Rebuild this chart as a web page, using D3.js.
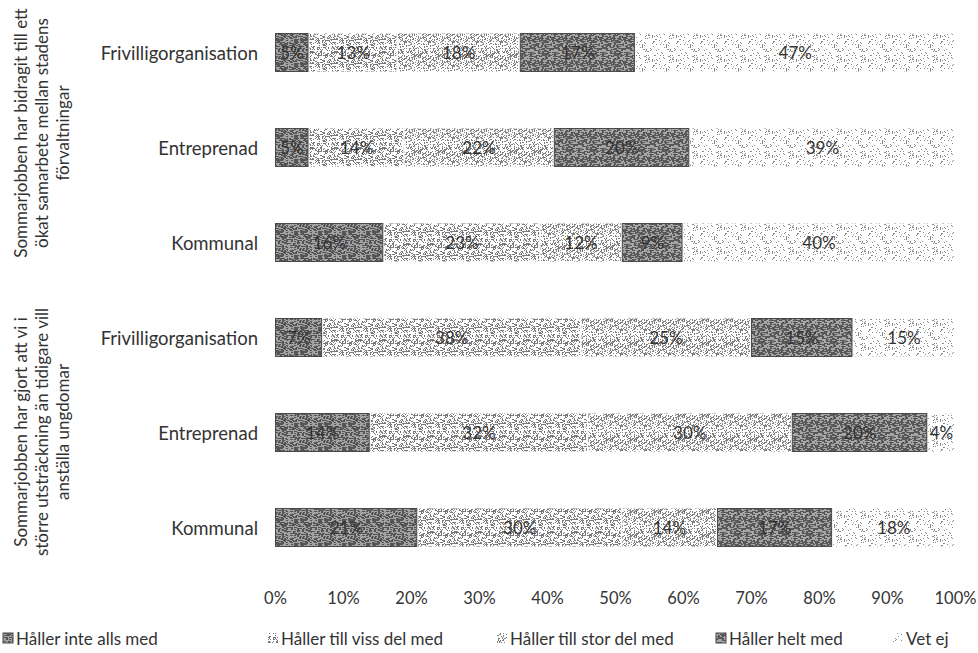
<!DOCTYPE html>
<html>
<head>
<meta charset="utf-8">
<script src="https://cdn.jsdelivr.net/npm/d3@7"></script>
<style>
  body { margin: 0; background: #fff; }
  text { font-family: Lato, "Open Sans", sans-serif; fill: #333; }
</style>
</head>
<body>
<script>
const svgWidth = 978,
    svgHeight = 653;

// rows, top to bottom (two question groups, three organisation types each)
const rowIds = ["g1-friv", "g1-entr", "g1-komm", "g2-friv", "g2-entr", "g2-komm"];
const rowLabels = ["Frivilligorganisation", "Entreprenad", "Kommunal", "Frivilligorganisation", "Entreprenad", "Kommunal"];
const groupLabels = [
    ["Sommarjobben har bidragit till ett", "ökat samarbete mellan stadens", "förvaltningar"],
    ["Sommarjobben har gjort att vi i", "större utsträckning än tidigare vill", "anställa ungdomar"]
];
const seriesNames = ["Håller inte alls med", "Håller till viss del med", "Håller till stor del med", "Håller helt med", "Vet ej"];

// percent per row
const inteAlls = [5, 5, 16, 7, 14, 21];
const vissDel = [13, 14, 23, 38, 32, 30];
const storDel = [18, 22, 12, 25, 30, 14];
const heltMed = [17, 20, 9, 15, 20, 17];
const vetEj = [47, 39, 40, 15, 4, 18];

const xTicks = [0, 10, 20, 30, 40, 50, 60, 70, 80, 90, 100];

const seriesValues = [inteAlls, vissDel, storDel, heltMed, vetEj];
const table = rowIds.map(function (id, i) {
    var row = { id: id };
    seriesNames.forEach(function (s, k) { row[s] = seriesValues[k][i]; });
    return row;
});

var svg = d3.select("body").append("svg")
    .attr("width", svgWidth)
    .attr("height", svgHeight);

// scanned-print look: pattern fills built from a fixed hash, not data
var defs = svg.append("defs");
function hash(n) {
    var s = Math.sin(n * 127.1 + 311.7) * 43758.5453;
    return s - Math.floor(s);
}
function makePattern(id, size, bg, dotColor, density, seed, dotW) {
    var p = defs.append("pattern")
        .attr("id", id)
        .attr("patternUnits", "userSpaceOnUse")
        .attr("width", size)
        .attr("height", size);
    p.append("rect").attr("width", size).attr("height", size).attr("fill", bg);
    for (var yy = 0; yy < size; yy++) {
        for (var xx = 0; xx < size; xx++) {
            if (hash(seed + xx * 31 + yy * 977) < density) {
                p.append("rect")
                    .attr("x", xx).attr("y", yy)
                    .attr("width", dotW).attr("height", 1)
                    .attr("fill", dotColor);
            }
        }
    }
}
makePattern("pat0", 24, "#a2a2a2", "#555", 0.34, 3, 2);
makePattern("pat1", 24, "#ffffff", "#7a7a7a", 0.34, 7, 1);
makePattern("pat2", 24, "#ffffff", "#808080", 0.30, 11, 1);
makePattern("pat3", 24, "#a6a6a6", "#585858", 0.33, 17, 2);
makePattern("pat4", 24, "#ffffff", "#8a8a8a", 0.13, 23, 1);

var fills = ["url(#pat0)", "url(#pat1)", "url(#pat2)", "url(#pat3)", "url(#pat4)"];
var strokes = ["#4a4a4a", "none", "none", "#4a4a4a", "none"];

var x = d3.scaleLinear().domain([0, 100]).range([275, 955]);
var y = d3.scaleBand().domain(rowIds).range([5, 575]).paddingInner(0.6).paddingOuter(0.3);

var stack = d3.stack().keys(seriesNames);
var stacked = stack(table);

var layers = svg.append("g").attr("class", "bars")
    .selectAll("g")
    .data(stacked).enter()
    .append("g")
    .attr("fill", function (d, k) { return fills[k]; })
    .attr("stroke", function (d, k) { return strokes[k]; });

layers.selectAll("rect")
    .data(function (d) { return d; }).enter()
    .append("rect")
    .attr("x", function (d) { return x(d[0]) + 0.5; })
    .attr("y", function (d) { return y(d.data.id); })
    .attr("width", function (d) { return Math.max(0, x(d[1]) - x(d[0]) - 1.5); })
    .attr("height", y.bandwidth());

layers.selectAll("text")
    .data(function (d) { return d; }).enter()
    .append("text")
    .attr("x", function (d) { return (x(d[0]) + x(d[1])) / 2; })
    .attr("y", function (d) { return y(d.data.id) + y.bandwidth() / 2; })
    .attr("text-anchor", "middle")
    .attr("dominant-baseline", "central")
    .attr("stroke", "none")
    .style("font-size", "17px")
    .text(function (d) { return (d[1] - d[0]) + "%"; });

// category labels
svg.append("g")
    .selectAll("text")
    .data(rowIds).enter()
    .append("text")
    .attr("x", 258)
    .attr("y", function (d) { return y(d) + y.bandwidth() / 2; })
    .attr("text-anchor", "end")
    .attr("dominant-baseline", "central")
    .style("font-size", "18.5px")
    .text(function (d, i) { return rowLabels[i]; });

// group labels, rotated
var groupCenters = [133, 432];
groupLabels.forEach(function (lines, g) {
    var gl = svg.append("g")
        .attr("transform", "translate(0," + groupCenters[g] + ") rotate(-90)");
    gl.selectAll("text")
        .data(lines).enter()
        .append("text")
        .attr("x", 0)
        .attr("y", function (d, i) { return 20 + i * 21; })
        .attr("text-anchor", "middle")
        .attr("dominant-baseline", "central")
        .style("font-size", "17px")
        .text(function (d) { return d; });
});

// x axis labels
var xAxis = svg.append("g")
    .attr("transform", "translate(0,598)")
    .call(d3.axisBottom(x).tickValues(xTicks).tickSize(0).tickFormat(function (d) { return d + "%"; }));
xAxis.select(".domain").remove();
xAxis.selectAll("text")
    .attr("dy", null)
    .attr("y", 0)
    .attr("dominant-baseline", "central")
    .style("font-family", "Lato, 'Open Sans', sans-serif")
    .style("font-size", "16.5px")
    .attr("fill", "#333");

// legend
var legendX = [3, 268, 497, 716, 893];
var legend = svg.append("g").attr("class", "legend")
    .selectAll("g")
    .data(seriesNames).enter()
    .append("g")
    .attr("transform", function (d, i) { return "translate(" + legendX[i] + ",638)"; });
legend.append("rect")
    .attr("x", 0).attr("y", -5)
    .attr("width", 10).attr("height", 10)
    .attr("fill", function (d, i) { return fills[i]; })
    .attr("stroke", function (d, i) { return strokes[i]; });
legend.append("text")
    .attr("x", 13)
    .attr("y", 0)
    .attr("dominant-baseline", "central")
    .style("font-size", "17px")
    .text(function (d) { return d; });
</script>
</body>
</html>
